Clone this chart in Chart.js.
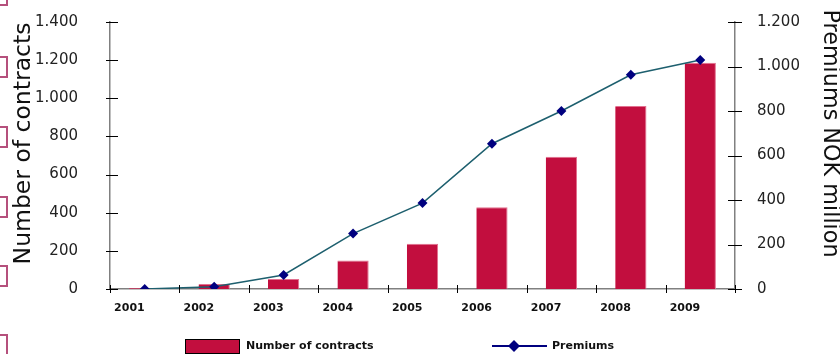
<!DOCTYPE html>
<html>
<head>
<meta charset="utf-8">
<script src="https://cdn.jsdelivr.net/npm/chart.js@4"></script>
<style>
  html, body { margin: 0; padding: 0; background: #fff; }
  #wrap { width: 840px; height: 354px; position: relative; }
</style>
</head>
<body>
<div id="wrap"><canvas id="myChart"></canvas></div>
<script>
// data
var years = ['2001', '2002', '2003', '2004', '2005', '2006', '2007', '2008', '2009'];
var contracts = [5, 26, 53, 149, 237, 428, 693, 960, 1186];
var premiums = [0, 10, 63, 249, 386, 653, 800, 963, 1029];
var leftTicks = [0, 200, 400, 600, 800, 1000, 1200, 1400];
var rightTicks = [0, 200, 400, 600, 800, 1000, 1200];

var FONT = 'DejaVu Sans';
var barRed = '#C20E3E';
var lineTeal = '#1d5f6e';
var navy = '#00007f';

function dotted(v) {
    // 1400 -> "1.400"
    if (v >= 1000) return Math.floor(v / 1000) + '.' + String(v % 1000).padStart(3, '0');
    return String(v);
}

// tick marks that cross the axis lines
var crossTicks = {
    id: 'crossTicks',
    afterDraw: function(chart) {
        var ctx = chart.ctx;
        var x = chart.scales.x, y = chart.scales.y, y1 = chart.scales.y1;
        ctx.save();
        ctx.strokeStyle = '#000';
        ctx.lineWidth = 1;
        ctx.beginPath();
        y.ticks.forEach(function(t) {
            var py = Math.round(y.getPixelForValue(t.value)) + 0.5;
            ctx.moveTo(y.right - 4, py); ctx.lineTo(y.right + 8, py);
        });
        y1.ticks.forEach(function(t) {
            var py = Math.round(y1.getPixelForValue(t.value)) + 0.5;
            ctx.moveTo(y1.left - 7, py); ctx.lineTo(y1.left + 7, py);
        });
        for (var i = 0; i <= years.length; i++) {
            var px = Math.round(x.getPixelForValue(i - 0.5)) + 0.5;
            ctx.moveTo(px, x.top - 4); ctx.lineTo(px, x.top + 4);
        }
        ctx.stroke();
        ctx.restore();
    }
};

// axis titles, cut-off bullet squares on the left edge, legend at the bottom
var extras = {
    id: 'extras',
    beforeDraw: function(chart) {
        var ctx = chart.ctx;
        ctx.save();
        ctx.strokeStyle = '#b5507c';
        ctx.lineWidth = 2;
        [-15, 57, 127, 197, 266, 335].forEach(function(t) {
            ctx.strokeRect(-13, t, 20, 20);
        });
        ctx.restore();
    },
    afterDraw: function(chart) {
        var ctx = chart.ctx;
        ctx.save();
        ctx.fillStyle = '#111';
        ctx.textAlign = 'center';
        ctx.textBaseline = 'middle';
        ctx.font = '23.5px "' + FONT + '"';
        ctx.translate(24, 143.5);
        ctx.rotate(-Math.PI / 2);
        ctx.fillText('Number of contracts', 0, 0);
        ctx.restore();

        ctx.save();
        ctx.fillStyle = '#111';
        ctx.textAlign = 'center';
        ctx.textBaseline = 'middle';
        ctx.font = '22.3px "' + FONT + '"';
        ctx.translate(829.5, 133.5);
        ctx.rotate(Math.PI / 2);
        ctx.fillText('Premiums NOK million', 0, 0);
        ctx.restore();

        ctx.save();
        ctx.fillStyle = barRed;
        ctx.fillRect(185, 339, 55, 15);
        ctx.strokeStyle = '#000';
        ctx.lineWidth = 1;
        ctx.strokeRect(185.5, 339.5, 54, 14);
        ctx.fillStyle = '#111';
        ctx.font = 'bold 11px "' + FONT + '"';
        ctx.textBaseline = 'middle';
        ctx.fillText('Number of contracts', 246, 346);
        ctx.strokeStyle = navy;
        ctx.lineWidth = 2;
        ctx.beginPath();
        ctx.moveTo(492, 346); ctx.lineTo(547, 346);
        ctx.stroke();
        ctx.fillStyle = navy;
        ctx.beginPath();
        ctx.moveTo(514, 340); ctx.lineTo(520, 346); ctx.lineTo(514, 352); ctx.lineTo(508, 346);
        ctx.closePath();
        ctx.fill();
        ctx.fillStyle = '#111';
        ctx.fillText('Premiums', 552, 346);
        ctx.restore();
    }
};

var ctx = document.getElementById('myChart').getContext('2d');
var myChart = new Chart(ctx, {
    data: {
        labels: years,
        datasets: [{
            type: 'line',
            label: 'Premiums',
            data: premiums,
            yAxisID: 'y1',
            borderColor: lineTeal,
            borderWidth: 1.5,
            pointStyle: 'rectRot',
            pointRadius: 5,
            pointBackgroundColor: navy,
            pointBorderColor: navy,
            pointBorderWidth: 0,
            tension: 0,
            order: 0
        }, {
            type: 'bar',
            label: 'Number of contracts',
            data: contracts,
            yAxisID: 'y',
            backgroundColor: barRed,
            borderColor: '#e2708f',
            borderWidth: {top: 1, right: 1, left: 0, bottom: 0},
            borderSkipped: false,
            categoryPercentage: 1,
            barPercentage: 0.45,
            order: 1
        }]
    },
    options: {
        responsive: true,
        maintainAspectRatio: false,
        animation: false,
        layout: { padding: { top: 22, left: 0, right: 0, bottom: 0 } },
        plugins: {
            legend: { display: false },
            tooltip: { enabled: false }
        },
        scales: {
            x: {
                offset: true,
                grid: { display: false },
                border: { display: true, color: '#808080', width: 1.5 },
                ticks: {
                    align: 'end',
                    padding: 5,
                    color: '#111',
                    font: { family: FONT, size: 11, weight: 'bold' }
                },
                afterFit: function(s) { s.height = 65; }
            },
            y: {
                position: 'left',
                min: 0, max: 1400,
                afterBuildTicks: function(s) { s.ticks = leftTicks.map(function(v) { return {value: v}; }); },
                grid: { display: false },
                border: { display: true, color: '#808080', width: 1.5 },
                ticks: {
                    padding: 24,
                    color: '#222',
                    font: { family: FONT, size: 15 },
                    callback: function(v) { return dotted(v); }
                },
                afterFit: function(s) { s.width = 110; s.paddingTop = 0; s.paddingBottom = 0; }
            },
            y1: {
                position: 'right',
                min: 0, max: 1200,
                afterBuildTicks: function(s) { s.ticks = rightTicks.map(function(v) { return {value: v}; }); },
                grid: { display: false },
                border: { display: true, color: '#808080', width: 1.5 },
                ticks: {
                    padding: 14,
                    color: '#222',
                    font: { family: FONT, size: 15 },
                    callback: function(v) { return dotted(v); }
                },
                afterFit: function(s) { s.width = 105; s.paddingTop = 0; s.paddingBottom = 0; }
            }
        }
    },
    plugins: [crossTicks, extras]
});
</script>
</body>
</html>
